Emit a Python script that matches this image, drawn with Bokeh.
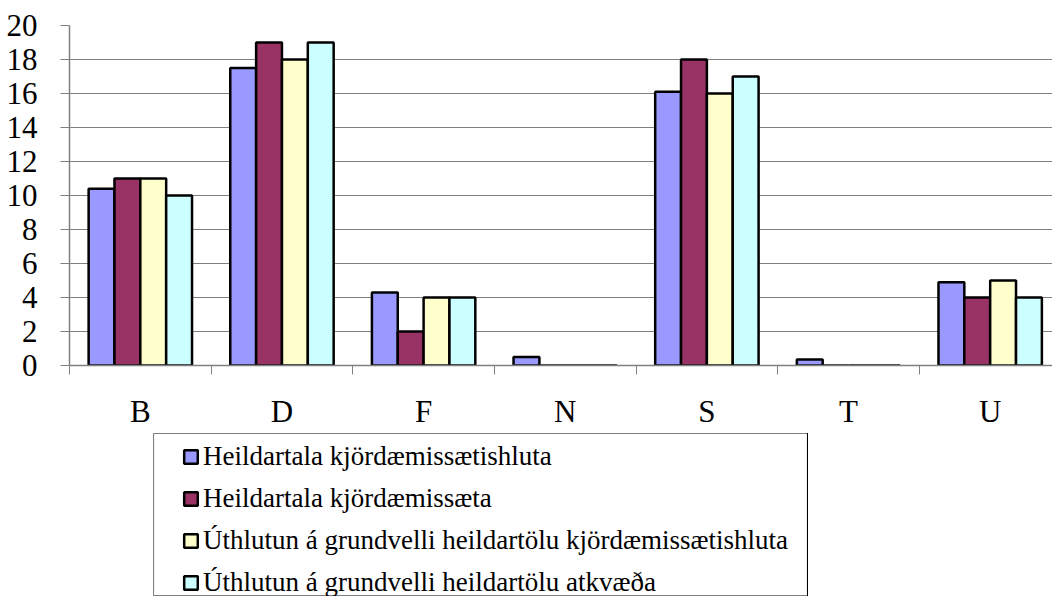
from bokeh.plotting import figure
from bokeh.models import (ColumnDataSource, Range1d, FixedTicker, Legend, LegendItem, Spacer)
from bokeh.layouts import column, row
from bokeh.embed import file_html
from bokeh.resources import INLINE

categories = ["B", "D", "F", "N", "S", "T", "U"]
series_names = [
    "Heildartala kjördæmissætishluta",
    "Heildartala kjördæmissæta",
    "Úthlutun á grundvelli heildartölu kjördæmissætishluta",
    "Úthlutun á grundvelli heildartölu atkvæða",
]
heildartala_hluta = [10.4, 17.5, 4.3, 0.5, 16.1, 0.35, 4.9]
heildartala_saeta = [11, 19, 2, 0, 18, 0, 4]
uthlutun_hluta = [11, 18, 4, 0, 16, 0, 5]
uthlutun_atkvaeda = [10, 19, 4, 0, 17, 0, 4]
colors = ["#9999FF", "#993366", "#FFFFCC", "#CCFFFF"]
y_ticks = list(range(0, 21, 2))

series = [heildartala_hluta, heildartala_saeta, uthlutun_hluta, uthlutun_atkvaeda]

FONT = "Liberation Serif"
bar_w = 0.1825

p = figure(width=1052, height=433, output_backend="svg", toolbar_location=None,
           x_range=Range1d(0, 6.94), y_range=Range1d(0, 20),
           min_border_left=69, min_border_top=25, min_border_right=0,
           min_border_bottom=68)
p.outline_line_color = None
p.background_fill_color = "white"
p.border_fill_color = "white"

centers = [i + 0.5 for i in range(len(categories))]
sources = []
for k, (vals, col) in enumerate(zip(series, colors)):
    off = (k - 1.5) * bar_w
    src = ColumnDataSource(dict(x=[c + off for c in centers], top=vals))
    sources.append(src)
    p.vbar(x="x", top="top", bottom=0, width=bar_w, source=src,
           fill_color=col, line_color="black", line_width=2.5)

# axes
p.xaxis.ticker = FixedTicker(ticks=centers, minor_ticks=list(range(0, 8)))
p.xaxis.major_label_overrides = {c: lab for c, lab in zip(centers, categories)}
p.xaxis.major_tick_out = 0
p.xaxis.major_tick_in = 0
p.xaxis.minor_tick_out = 9
p.xaxis.minor_tick_in = 0
p.xaxis.minor_tick_line_color = "#808080"
p.xaxis.axis_line_color = "#808080"
p.xaxis.axis_line_width = 1.5
p.xaxis.major_label_standoff = 19
p.xaxis.major_label_text_font = FONT
p.xaxis.major_label_text_font_size = "31px"
p.xaxis.major_label_text_color = "black"

p.yaxis.ticker = FixedTicker(ticks=y_ticks)
p.yaxis.major_tick_out = 9
p.yaxis.major_tick_in = 0
p.yaxis.minor_tick_line_color = None
p.yaxis.major_tick_line_color = "#808080"
p.yaxis.axis_line_color = "#808080"
p.yaxis.axis_line_width = 1.5
p.yaxis.major_label_standoff = 23
p.yaxis.major_label_text_font = FONT
p.yaxis.major_label_text_font_size = "31px"
p.yaxis.major_label_text_color = "black"

p.xgrid.grid_line_color = None
p.ygrid.ticker = FixedTicker(ticks=y_ticks)
p.ygrid.grid_line_color = "#808080"
p.ygrid.grid_line_width = 1.2

# legend panel (box outline = frame of a second, axis-less figure)
p2 = figure(width=655, height=163, output_backend="svg", toolbar_location=None,
            x_range=Range1d(-10, -9), y_range=Range1d(0, 1),
            x_axis_type=None, y_axis_type=None,
            min_border_left=0, min_border_right=0, min_border_top=0,
            min_border_bottom=0)
p2.grid.grid_line_color = None
p2.outline_line_color = "#808080"
p2.outline_line_width = 1.2
p2.background_fill_color = "white"
p2.border_fill_color = "white"

leg_renderers = []
for src, col in zip(sources, colors):
    r = p2.vbar(x="x", top="top", bottom=0, width=bar_w, source=src,
                fill_color=col, line_color="black", line_width=2.5)
    leg_renderers.append(r)

items = [LegendItem(label=n, renderers=[r]) for n, r in zip(series_names, leg_renderers)]
legend = Legend(items=items, location=(29, -2), orientation="vertical",
                label_text_font=FONT, label_text_font_size="27px",
                label_text_color="black", glyph_width=17, glyph_height=17,
                label_height=30, label_standoff=4, padding=0, spacing=11, margin=0,
                border_line_color=None, background_fill_alpha=0)
p2.add_layout(legend, "center")

layout = column(p, row(Spacer(width=153, height=163), p2, spacing=0), spacing=0)
open("out.html", "w").write(file_html(layout, INLINE))
